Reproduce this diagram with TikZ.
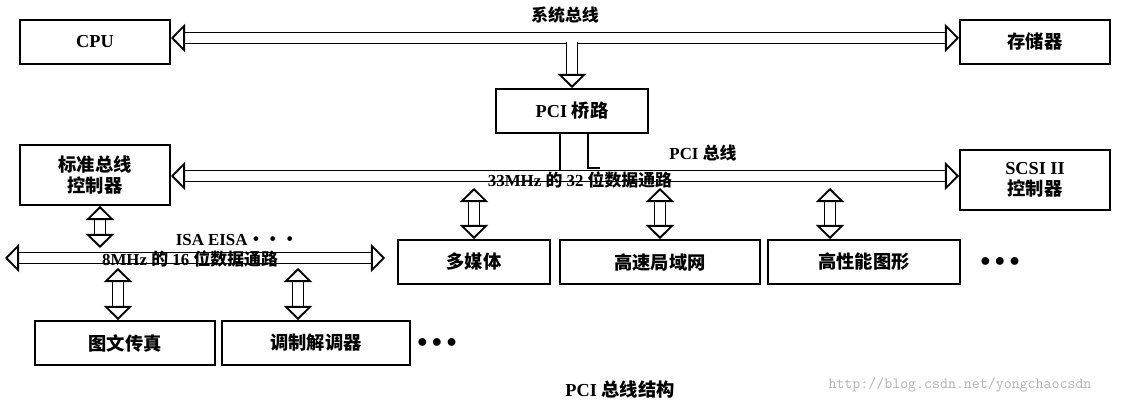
\documentclass[tikz,border=0pt]{standalone}
\usepackage{fontspec}
\setmainfont{Liberation Serif}
\newfontfamily\cjk{Noto Sans CJK SC}
\usetikzlibrary{arrows.meta}
\tikzset{
  unit/.style={draw, line width=1.4pt, minimum height=1.1cm, font=\fontsize{13}{15}\selectfont\bfseries, align=center, inner sep=2pt},
  bus/.style={double, double distance=6.5pt, line width=1.3pt, {Triangle[open,width=20pt,length=10pt]}-{Triangle[open,width=20pt,length=10pt]}},
  feed/.style={double, double distance=6.5pt, line width=1.3pt, -{Triangle[open,width=20pt,length=10pt]}},
  lbl/.style={font=\fontsize{12}{14}\selectfont\bfseries, inner sep=1pt}
}
\begin{document}
\begin{tikzpicture}[x=0.025cm, y=-0.025cm]
\useasboundingbox[fill=white] (0,0) rectangle (1133,406);

% units
\node[unit, minimum width=3.75cm] (cpu) at (95,42) {CPU};
\node[unit, minimum width=3.75cm] (mem) at (1035,42) {\cjk 存储器};
\node[unit, minimum width=3.8cm] (bridge) at (572,111) {PCI {\cjk 桥路}};
\node[unit, minimum width=3.75cm, minimum height=1.5cm] (stdctl) at (95,175) {\cjk 标准总线\\\cjk 控制器};
\node[unit, minimum width=3.75cm, minimum height=1.5cm] (scsi) at (1035,180) {SCSI II\\\cjk 控制器};
\node[unit, minimum width=3.8cm] (media) at (474,262) {\cjk 多媒体};
\node[unit, minimum width=5cm] (lan) at (660,262) {\cjk 高速局域网};
\node[unit, minimum width=4.8cm] (gfx) at (864,262) {\cjk 高性能图形};
\node[unit, minimum width=4.5cm] (fax) at (125,343) {\cjk 图文传真};
\node[unit, minimum width=4.7cm] (modem) at (316,343) {\cjk 调制解调器};
\node[font=\fontsize{14}{14}\selectfont\bfseries] (dots1) at (1000,262) {$\bullet\bullet\bullet$};
\node[font=\fontsize{14}{14}\selectfont\bfseries] (dots2) at (437,343) {$\bullet\bullet\bullet$};

% buses
\coordinate (sysL) at (cpu.east |- 0,38);
\coordinate (sysR) at (mem.west |- 0,38);
\draw[bus] (sysL) -- (sysR);
\node[lbl] (syslbl) at (565,15) {\cjk 系统总线};
\draw[feed] (bridge.north |- 0,42) -- (bridge.north);

\coordinate (pciL) at (stdctl.east |- 0,176);
\coordinate (pciR) at (scsi.west |- 0,176);
\draw[bus] (pciL) -- (pciR);
\draw[line width=1.3pt] (560,0 |- bridge.south) -- (560,171)
  (588,0 |- bridge.south) -- (588,168) -- (600,168);
\node[lbl] (pcilbl) at (703,153) {PCI {\cjk 总线}};
\node[lbl] (pcidata) at (580,180) {33MHz {\cjk 的} 32 {\cjk 位数据通路}};

\coordinate (isaL) at (5,258);
\coordinate (isaR) at (385,258);
\draw[bus] (isaL) -- (isaR);
\node[lbl] (isalbl) at (237,240) {ISA EISA{\cjk ···}};
\node[lbl] (isadata) at (190,259) {8MHz {\cjk 的} 16 {\cjk 位数据通路}};

% branches
\draw[bus] (stdctl.south -| 100,0) -- (100,248);
\draw[bus] (media.north) -- (media.north |- 0,188);
\draw[bus] (lan.north) -- (lan.north |- 0,188);
\draw[bus] (gfx.north -| 830,0) -- (830,188);
\draw[bus] (fax.north -| 118,0) -- (118,268);
\draw[bus] (modem.north -| 298,0) -- (298,268);

% caption
\node[font=\fontsize{13}{15}\selectfont\bfseries] (caption) at (620,390) {PCI {\cjk 总线结构}};
\node[text=gray!60, font=\ttfamily\fontsize{11}{13}\selectfont] (mark) at (960,385) {http://blog.csdn.net/yongchaocsdn};
\end{tikzpicture}
\end{document}
